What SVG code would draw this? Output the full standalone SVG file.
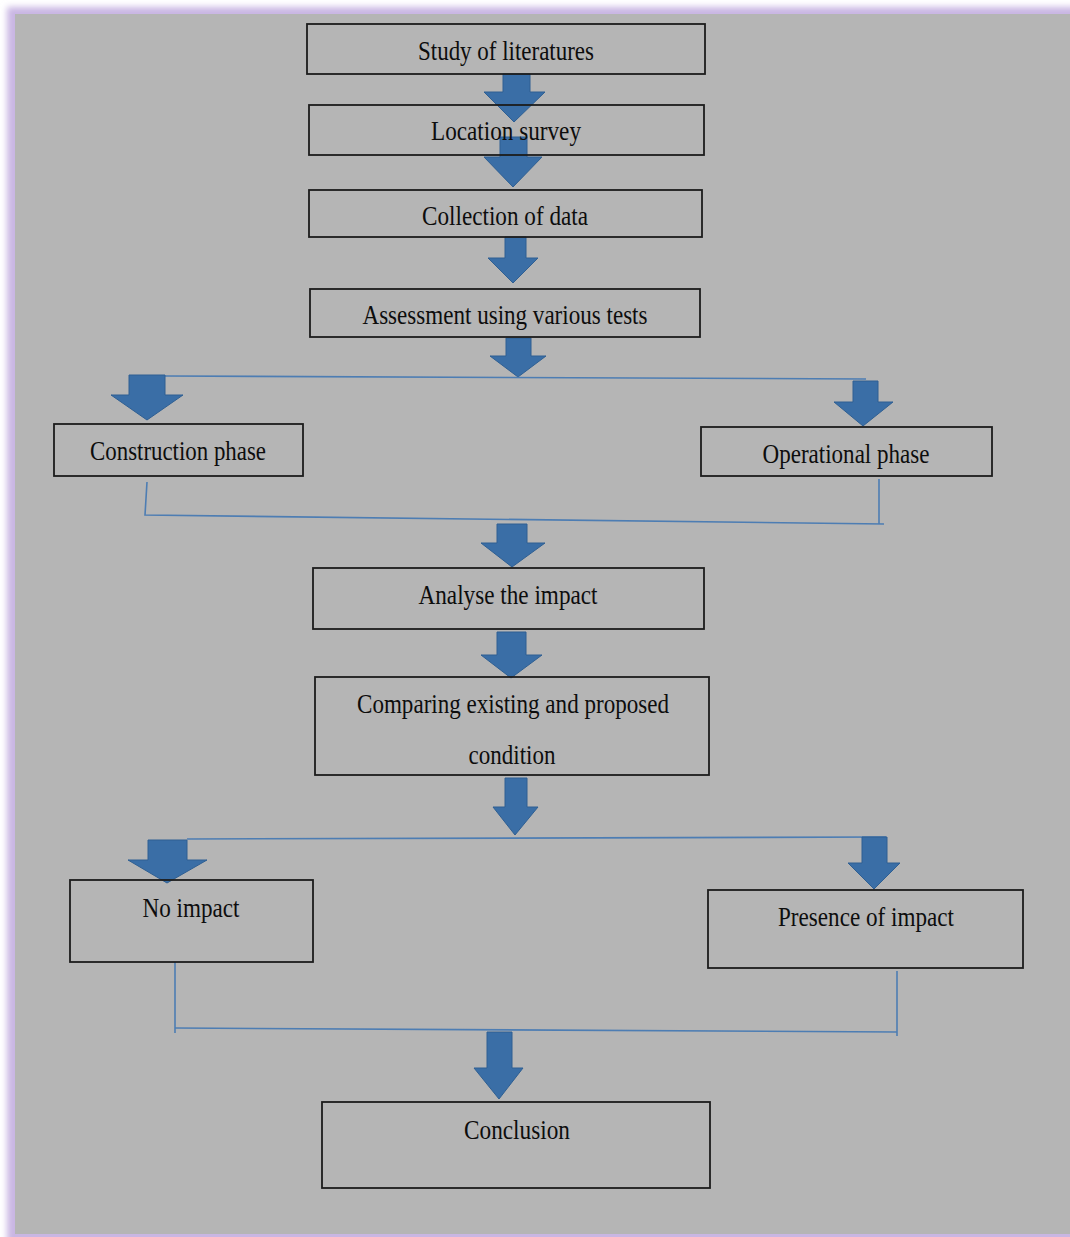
<svg xmlns="http://www.w3.org/2000/svg" width="1070" height="1237" viewBox="0 0 1070 1237">
<style>
.box{fill:none;stroke:#1c1c1c;stroke-width:1.8}
.t{font-family:"Liberation Serif","Times New Roman",serif;font-size:27.5px;fill:#0d0d0d;text-anchor:middle}
.ar{fill:#3a6ea6;stroke:#2f5f92;stroke-width:1}
.ln{fill:none;stroke:#4d7db3;stroke-width:1.6}
</style>
<defs>
<filter id="blur" x="-5%" y="-5%" width="110%" height="110%"><feGaussianBlur stdDeviation="3"/></filter>
</defs>
<rect x="0" y="0" width="1070" height="1237" fill="#ffffff"/>
<rect x="7" y="7" width="1080" height="1240" fill="#c9b6e3" filter="url(#blur)"/>
<rect x="15" y="14" width="1055" height="1220" fill="#b5b5b5"/>

<g id="connectors">
<polygon class="ar" points="503,74 530,74 530,92 545,92 514,122 484,92 503,92"/>
<polygon class="ar" points="500,137 527,137 527,157 542,157 513,187 484,157 500,157"/>
<polygon class="ar" points="505,237 526,237 526,258 538,258 513,283 488,258 505,258"/>
<polygon class="ar" points="506,338 531,338 531,356 546,356 518,377 490,356 506,356"/>
<polyline class="ln" points="165,376 866,379"/>
<polygon class="ar" points="129,375 165,375 165,395 183,395 147,420 111,395 129,395"/>
<polygon class="ar" points="853,381 878,381 878,402 893,402 863,426 834,402 853,402"/>
<polyline class="ln" points="147,482 145,515 884,524"/>
<polyline class="ln" points="879,479 879,524"/>
<polygon class="ar" points="497,524 527,524 527,543 545,543 512,567 481,543 497,543"/>
<polygon class="ar" points="497,632 526,632 526,655 542,655 511,678 481,655 497,655"/>
<polygon class="ar" points="505,778 527,778 527,807 538,807 515,835 493,807 505,807"/>
<polyline class="ln" points="187,839 886,837"/>
<polygon class="ar" points="148,840 187,840 187,860 207,860 167,883 128,860 148,860"/>
<polygon class="ar" points="862,837 887,837 887,863 900,863 874,889 848,863 862,863"/>
<polyline class="ln" points="175,962 175,1033"/>
<polyline class="ln" points="175,1028 897,1032"/>
<polyline class="ln" points="897,971 897,1036"/>
<polygon class="ar" points="487,1032 512,1032 512,1068 523,1068 499,1099 474,1068 487,1068"/>
</g>

<g id="n1"><rect class="box" x="307" y="24" width="398" height="50"/><text class="t" x="506" y="60" textLength="176" lengthAdjust="spacingAndGlyphs">Study of literatures</text></g>
<g id="n2"><rect class="box" x="309" y="105" width="395" height="50"/><text class="t" x="506" y="140" textLength="150" lengthAdjust="spacingAndGlyphs">Location survey</text></g>
<g id="n3"><rect class="box" x="309" y="190" width="393" height="47"/><text class="t" x="505" y="225" textLength="166" lengthAdjust="spacingAndGlyphs">Collection of data</text></g>
<g id="n4"><rect class="box" x="310" y="289" width="390" height="48"/><text class="t" x="505" y="324" textLength="285" lengthAdjust="spacingAndGlyphs">Assessment using various tests</text></g>
<g id="n5"><rect class="box" x="54" y="424" width="249" height="52"/><text class="t" x="178" y="460" textLength="176" lengthAdjust="spacingAndGlyphs">Construction phase</text></g>
<g id="n6"><rect class="box" x="701" y="427" width="291" height="49"/><text class="t" x="846" y="463" textLength="167" lengthAdjust="spacingAndGlyphs">Operational phase</text></g>
<g id="n7"><rect class="box" x="313" y="568" width="391" height="61"/><text class="t" x="508" y="604" textLength="179" lengthAdjust="spacingAndGlyphs">Analyse the impact</text></g>
<g id="n8"><rect class="box" x="315" y="677" width="394" height="98"/><text class="t" x="513" y="713" textLength="312" lengthAdjust="spacingAndGlyphs">Comparing existing and proposed</text><text class="t" x="512" y="764" textLength="87" lengthAdjust="spacingAndGlyphs">condition</text></g>
<g id="n9"><rect class="box" x="70" y="880" width="243" height="82"/><text class="t" x="191" y="917" textLength="97" lengthAdjust="spacingAndGlyphs">No impact</text></g>
<g id="n10"><rect class="box" x="708" y="890" width="315" height="78"/><text class="t" x="866" y="926" textLength="176" lengthAdjust="spacingAndGlyphs">Presence of impact</text></g>
<g id="n11"><rect class="box" x="322" y="1102" width="388" height="86"/><text class="t" x="517" y="1139" textLength="106" lengthAdjust="spacingAndGlyphs">Conclusion</text></g>
</svg>
